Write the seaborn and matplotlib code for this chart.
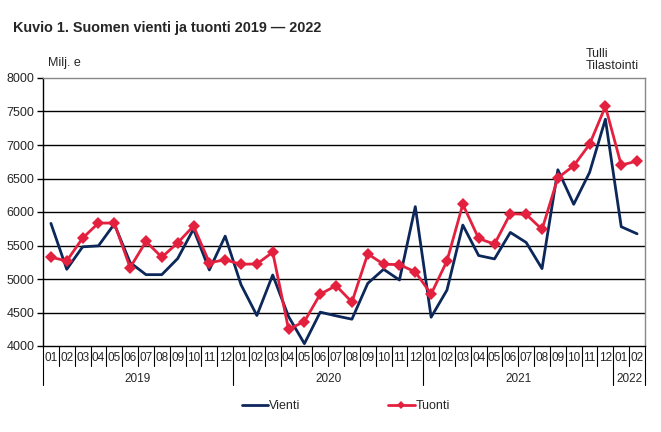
import pandas as pd
import matplotlib.pyplot as plt
import matplotlib.transforms as mtransforms
from matplotlib.lines import Line2D
import seaborn as sns

# Monthly values, million euros
months = ['01', '02', '03', '04', '05', '06', '07', '08', '09', '10', '11', '12'] * 3 + ['01', '02']
years = ['2019', '2020', '2021', '2022']
year_lengths = [12, 12, 12, 2]

vienti = [5830, 5145, 5480, 5495, 5820, 5245, 5065, 5065, 5305, 5745, 5135, 5640,
          4915, 4455, 5060, 4440, 4035, 4505, 4450, 4400, 4935, 5145, 4985, 6080,
          4430, 4835, 5805, 5350, 5300, 5695, 5545, 5155, 6630, 6115, 6590, 7385,
          5780, 5675]
tuonti = [5325, 5270, 5610, 5835, 5835, 5170, 5560, 5325, 5540, 5790, 5245, 5285,
          5220, 5225, 5400, 4250, 4365, 4775, 4900, 4655, 5375, 5220, 5215, 5105,
          4775, 5270, 6115, 5605, 5520, 5975, 5965, 5740, 6510, 6690, 7010, 7575,
          6700, 6760]

df = pd.DataFrame({'pos': range(len(months)), 'Vienti': vienti, 'Tuonti': tuonti})

sns.set_style('white')
plt.rcParams['font.family'] = ['Liberation Sans', 'DejaVu Sans']

navy = '#0c2759'
red = '#e4203f'

fig = plt.figure(figsize=(6.61, 4.32), dpi=100)
ax = fig.add_axes([43 / 661, 1 - 346 / 432, 602 / 661, 268 / 432])

sns.lineplot(data=df, x='pos', y='Vienti', color=navy, linewidth=2, ax=ax)
sns.lineplot(data=df, x='pos', y='Tuonti', color=red, linewidth=2,
             marker='D', markersize=6, markeredgewidth=0, ax=ax)

ax.set_xlim(-0.5, len(months) - 0.5)
ax.set_ylim(4000, 8000)
ax.set_yticks(range(4000, 8001, 500))
ax.tick_params(axis='y', labelsize=9, length=4, width=1, color='black', left=True, pad=2)
for v in range(4500, 8000, 500):
    ax.axhline(v, color='black', linewidth=1, zorder=0)
ax.set_xticks([])
ax.set_xlabel('')
ax.set_ylabel('')

for side in ['top', 'right']:
    ax.spines[side].set_color('#888888')
    ax.spines[side].set_linewidth(1)
for side in ['left', 'bottom']:
    ax.spines[side].set_color('black')
    ax.spines[side].set_linewidth(1)

# Two-level category axis
trans = mtransforms.blended_transform_factory(ax.transData, ax.transAxes)
px = 1 / 268
for i, m in enumerate(months):
    ax.text(i, -12 * px, m, transform=trans, ha='center', va='center', fontsize=8.5)
start = 0
boundaries = [0]
for y, n in zip(years, year_lengths):
    ax.text(start + n / 2 - 0.5, -33 * px, y, transform=trans, ha='center', va='center', fontsize=8.5)
    start += n
    boundaries.append(start)
for b in range(len(months) + 1):
    x = b - 0.5
    y_end = -39 * px if b in boundaries else -20 * px
    ax.plot([x, x], [0, y_end], transform=trans, color='black', linewidth=0.8, clip_on=False)

fig.text(13 / 661, 1 - 28 / 432, 'Kuvio 1. Suomen vienti ja tuonti 2019 \u2014 2022',
         fontsize=10.4, fontweight='bold', va='center', ha='left')
fig.text(48 / 661, 1 - 63 / 432, 'Milj. e', fontsize=9, va='center', ha='left')
fig.text(586 / 661, 1 - 60 / 432, 'Tulli\nTilastointi', fontsize=9, va='center', ha='left',
         linespacing=1.1)

handles = [Line2D([], [], color=navy, linewidth=2),
           Line2D([], [], color=red, linewidth=2, marker='D', markersize=4, markeredgewidth=0)]
fig.legend(handles, ['Vienti', 'Tuonti'], loc='center', bbox_to_anchor=(346 / 661, 1 - 406 / 432),
           ncol=2, frameon=False, fontsize=9, handlelength=2.1, handletextpad=0.1,
           columnspacing=7)

fig.savefig('out.png', dpi=100)
